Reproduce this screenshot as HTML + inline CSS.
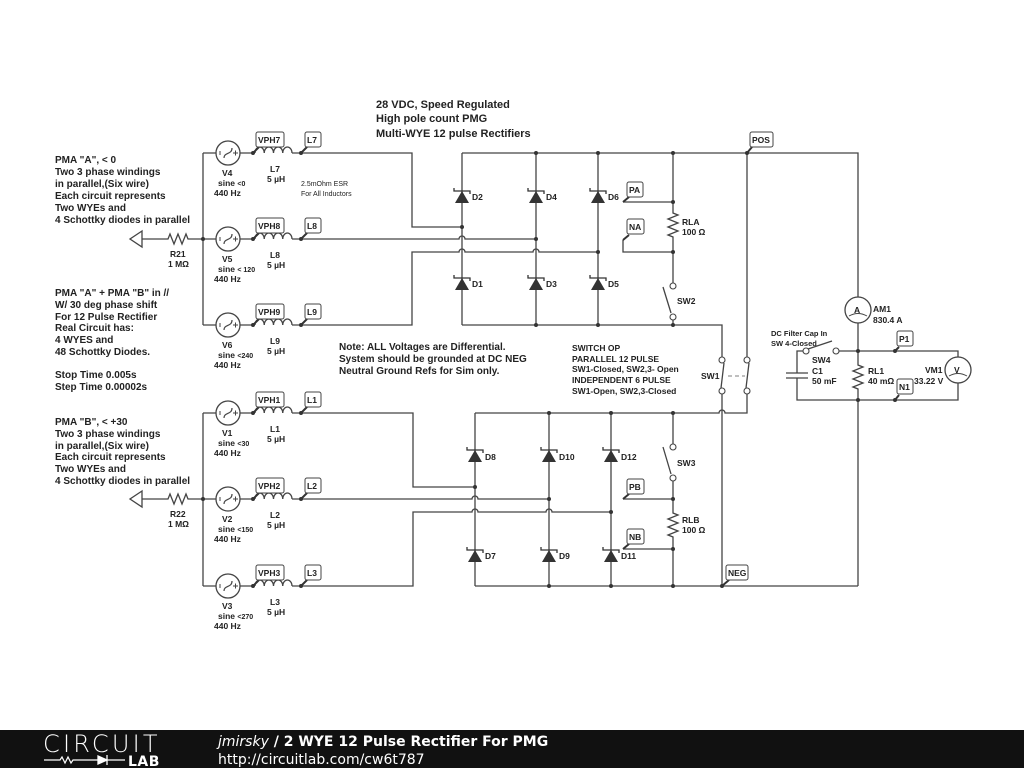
<!DOCTYPE html>
<html><head><meta charset="utf-8"><style>
html,body{margin:0;padding:0;background:#fff;}
svg{display:block;}
text{font-family:"Liberation Sans",Arial,sans-serif;fill:#222;}
.b{font-weight:bold;font-size:10px;}
.s{font-weight:bold;font-size:8.5px;}
.w{stroke:#444;stroke-width:1.3;fill:none;}
.lb{fill:#fff;stroke:#444;stroke-width:1;}
.f{font-family:"DejaVu Sans",sans-serif;fill:#fff;}
</style></head><body>
<svg width="1024" height="768" viewBox="0 0 1024 768" xmlns="http://www.w3.org/2000/svg">
<defs>
<g id="d"><path d="M-7,6 L7,6 L0,-6Z" fill="#333"/><path d="M-8,-9 L-8,-6 L8,-6 L8,-3" stroke="#333" stroke-width="1.3" fill="none"/></g>
<g id="src"><circle cx="0" cy="0" r="12" fill="#fff" stroke="#444" stroke-width="1.3"/><path d="M-4,5 C-4,-1 4,2 4,-5" stroke="#444" stroke-width="1.2" fill="none"/><path d="M-8,-2 V2 M5,0 H10 M7.5,-2.5 V2.5" stroke="#444" stroke-width="1"/></g>
<path id="ind" d="M0,0 a4.6,6 0 0 1 9.25,0 a4.6,6 0 0 1 9.25,0 a4.6,6 0 0 1 9.25,0 a4.6,6 0 0 1 9.25,0" stroke="#444" stroke-width="1.3" fill="none"/>
<path id="rv" d="M0,0 l0,3 l5,2 l-10,4 l10,4 l-10,4 l10,4 l-10,4 l5,2 l0,3" stroke="#444" stroke-width="1.3" fill="none"/>
<path id="rh" d="M0,0 l3,0 l2,-5 l4,10 l4,-10 l4,10 l4,-10 l2,5 l2,0" stroke="#444" stroke-width="1.3" fill="none"/>
</defs>

<text x="376" y="108" style="font-weight:bold;font-size:11px">28 VDC, Speed Regulated</text>
<text x="376" y="122" style="font-weight:bold;font-size:11px">High pole count PMG</text>
<text x="376" y="137" style="font-weight:bold;font-size:11px">Multi-WYE 12 pulse Rectifiers</text>

<text x="55" y="163" class="b">PMA "A", &lt; 0</text>
<text x="55" y="175" class="b">Two 3 phase windings</text>
<text x="55" y="187" class="b">in parallel,(Six wire)</text>
<text x="55" y="199" class="b">Each circuit represents</text>
<text x="55" y="211" class="b">Two WYEs and</text>
<text x="55" y="223" class="b">4 Schottky diodes in parallel</text>
<text x="55" y="296" class="b">PMA "A" + PMA "B" in //</text>
<text x="55" y="308" class="b">W/ 30 deg phase shift</text>
<text x="55" y="320" class="b">For 12 Pulse Rectifier</text>
<text x="55" y="331" class="b">Real Circuit has:</text>
<text x="55" y="343" class="b">4 WYES and</text>
<text x="55" y="355" class="b">48 Schottky Diodes.</text>
<text x="55" y="378" class="b">Stop Time 0.005s</text>
<text x="55" y="390" class="b">Step Time 0.00002s</text>
<text x="55" y="425" class="b">PMA "B", &lt; +30</text>
<text x="55" y="437" class="b">Two 3 phase windings</text>
<text x="55" y="449" class="b">in parallel,(Six wire)</text>
<text x="55" y="460" class="b">Each circuit represents</text>
<text x="55" y="472" class="b">Two WYEs and</text>
<text x="55" y="484" class="b">4 Schottky diodes in parallel</text>
<text x="339" y="350" class="b">Note: ALL Voltages are Differential.</text>
<text x="339" y="362" class="b">System should be grounded at DC NEG</text>
<text x="339" y="374" class="b">Neutral Ground Refs for Sim only.</text>
<text x="572" y="351" class="s">SWITCH OP</text>
<text x="572" y="362" class="s">PARALLEL 12 PULSE</text>
<text x="572" y="372" class="s">SW1-Closed, SW2,3- Open</text>
<text x="572" y="383" class="s">INDEPENDENT 6 PULSE</text>
<text x="572" y="394" class="s">SW1-Open, SW2,3-Closed</text>
<text x="301" y="186" style="font-size:7px">2.5mOhm ESR</text>
<text x="301" y="196" style="font-size:7px">For All Inductors</text>

<g class="w">
<path d="M203,153 V325 M203,153 H216 M240,153 H255 M292,153 H412 V227 H462"/>
<path d="M190,239 H216 M240,239 H255 M292,239 H459 a3,3 0 0 1 6,0 H536"/>
<path d="M203,325 H216 M240,325 H255 M292,325 H412 V252 H459 a3,3 0 0 1 6,0 H533 a3,3 0 0 1 6,0 H598"/>
<path d="M142,239 H165"/>
<path d="M462,153 H858 V297 M858,323 V362 M858,392 V586"/>
<path d="M462,153 V325 M536,153 V325 M598,153 V325 M462,325 H722 V357"/>
<path d="M673,153 V210 M673,240 V283 M673,320 V325 M663,287 L671,313"/>
<path d="M623,202 H673 M623,240 V252 H673"/>
<path d="M747,153 V357 M749,363 L746,388 M724,363 L721,388"/>
<path d="M747,394 V413 H725 a3,3 0 0 0 -6,0 H475 M722,394 V586"/>
<path d="M475,413 V586 M549,413 V586 M611,413 V586 M673,413 V444 M673,481 V510 M673,540 V586 M663,447 L671,474 M475,586 H858"/>
<path d="M203,413 V586 M203,413 H216 M240,413 H255 M292,413 H413 V487 H475"/>
<path d="M190,499 H216 M240,499 H255 M292,499 H472 a3,3 0 0 1 6,0 H549 M142,499 H165"/>
<path d="M203,586 H216 M240,586 H255 M292,586 H413 V512 H472 a3,3 0 0 1 6,0 H546 a3,3 0 0 1 6,0 H611"/>
<path d="M623,499 H673 M623,549 H673"/>
<path d="M836,351 H958 V357 M958,383 V400 H797 V378 M797,373 V351 H803 M786,373 H808 M786,378 H808 M808,349 L832,341"/>
</g>
<path d="M728,376 H745" stroke="#999" stroke-width="1.2" stroke-dasharray="4,3"/>

<path d="M142,231 L130,239 L142,247Z" fill="#fff" stroke="#444" stroke-width="1.3"/>
<path d="M142,491 L130,499 L142,507Z" fill="#fff" stroke="#444" stroke-width="1.3"/>
<use href="#rh" x="165" y="239"/><use href="#rh" x="165" y="499"/>
<text x="170" y="257" class="s">R21</text><text x="168" y="267" class="s">1 MΩ</text>
<text x="170" y="517" class="s">R22</text><text x="168" y="527" class="s">1 MΩ</text>

<use href="#src" x="228" y="153"/><use href="#src" x="228" y="239"/><use href="#src" x="228" y="325"/>
<use href="#src" x="228" y="413"/><use href="#src" x="228" y="499"/><use href="#src" x="228" y="586"/>
<use href="#ind" x="255" y="153"/><use href="#ind" x="255" y="239"/><use href="#ind" x="255" y="325"/>
<use href="#ind" x="255" y="413"/><use href="#ind" x="255" y="499"/><use href="#ind" x="255" y="586"/>

<text x="222" y="176" class="s">V4</text><text x="218" y="186" class="s">sine <tspan style="font-size:7px">&lt;0</tspan></text><text x="214" y="196" class="s">440 Hz</text>
<text x="222" y="262" class="s">V5</text><text x="218" y="272" class="s">sine <tspan style="font-size:7px">&lt; 120</tspan></text><text x="214" y="282" class="s">440 Hz</text>
<text x="222" y="348" class="s">V6</text><text x="218" y="358" class="s">sine <tspan style="font-size:7px">&lt;240</tspan></text><text x="214" y="368" class="s">440 Hz</text>
<text x="222" y="436" class="s">V1</text><text x="218" y="446" class="s">sine <tspan style="font-size:7px">&lt;30</tspan></text><text x="214" y="456" class="s">440 Hz</text>
<text x="222" y="522" class="s">V2</text><text x="218" y="532" class="s">sine <tspan style="font-size:7px">&lt;150</tspan></text><text x="214" y="542" class="s">440 Hz</text>
<text x="222" y="609" class="s">V3</text><text x="218" y="619" class="s">sine <tspan style="font-size:7px">&lt;270</tspan></text><text x="214" y="629" class="s">440 Hz</text>
<text x="270" y="172" class="s">L7</text><text x="267" y="182" class="s">5 µH</text>
<text x="270" y="258" class="s">L8</text><text x="267" y="268" class="s">5 µH</text>
<text x="270" y="344" class="s">L9</text><text x="267" y="354" class="s">5 µH</text>
<text x="270" y="432" class="s">L1</text><text x="267" y="442" class="s">5 µH</text>
<text x="270" y="518" class="s">L2</text><text x="267" y="528" class="s">5 µH</text>
<text x="270" y="605" class="s">L3</text><text x="267" y="615" class="s">5 µH</text>

<path d="M259,147 L253,153 M307,147 L301,153 M259,233 L253,239 M307,233 L301,239 M259,319 L253,325 M307,319 L301,325 M259,407 L253,413 M307,407 L301,413 M259,493 L253,499 M307,493 L301,499 M259,580 L253,586 M307,580 L301,586 M629,197 L623,202 M629,235 L623,240 M752,147 L747,153 M629,494 L623,499 M629,544 L623,549 M729,580 L722,586 M899,347 L895,351 M899,395 L895,400" stroke="#333" stroke-width="2"/>
<rect class="lb" x="256" y="132" width="28" height="15" rx="2"/><text x="258" y="143" class="s">VPH7</text>
<rect class="lb" x="305" y="132" width="16" height="15" rx="2"/><text x="307" y="143" class="s">L7</text>
<rect class="lb" x="256" y="218" width="28" height="15" rx="2"/><text x="258" y="229" class="s">VPH8</text>
<rect class="lb" x="305" y="218" width="16" height="15" rx="2"/><text x="307" y="229" class="s">L8</text>
<rect class="lb" x="256" y="304" width="28" height="15" rx="2"/><text x="258" y="315" class="s">VPH9</text>
<rect class="lb" x="305" y="304" width="16" height="15" rx="2"/><text x="307" y="315" class="s">L9</text>
<rect class="lb" x="256" y="392" width="28" height="15" rx="2"/><text x="258" y="403" class="s">VPH1</text>
<rect class="lb" x="305" y="392" width="16" height="15" rx="2"/><text x="307" y="403" class="s">L1</text>
<rect class="lb" x="256" y="478" width="28" height="15" rx="2"/><text x="258" y="489" class="s">VPH2</text>
<rect class="lb" x="305" y="478" width="16" height="15" rx="2"/><text x="307" y="489" class="s">L2</text>
<rect class="lb" x="256" y="565" width="28" height="15" rx="2"/><text x="258" y="576" class="s">VPH3</text>
<rect class="lb" x="305" y="565" width="16" height="15" rx="2"/><text x="307" y="576" class="s">L3</text>
<rect class="lb" x="627" y="182" width="16" height="15" rx="2"/><text x="629" y="193" class="s">PA</text>
<rect class="lb" x="627" y="219" width="17" height="15" rx="2"/><text x="629" y="230" class="s">NA</text>
<rect class="lb" x="750" y="132" width="23" height="15" rx="2"/><text x="752" y="143" class="s">POS</text>
<rect class="lb" x="627" y="479" width="17" height="15" rx="2"/><text x="629" y="490" class="s">PB</text>
<rect class="lb" x="627" y="529" width="17" height="15" rx="2"/><text x="629" y="540" class="s">NB</text>
<rect class="lb" x="726" y="565" width="22" height="15" rx="2"/><text x="728" y="576" class="s">NEG</text>
<rect class="lb" x="897" y="331" width="16" height="15" rx="2"/><text x="899" y="342" class="s">P1</text>
<rect class="lb" x="897" y="379" width="16" height="15" rx="2"/><text x="899" y="390" class="s">N1</text>

<use href="#d" x="462" y="197"/><use href="#d" x="462" y="284"/>
<use href="#d" x="536" y="197"/><use href="#d" x="536" y="284"/>
<use href="#d" x="598" y="197"/><use href="#d" x="598" y="284"/>
<use href="#d" x="475" y="456"/><use href="#d" x="475" y="556"/>
<use href="#d" x="549" y="456"/><use href="#d" x="549" y="556"/>
<use href="#d" x="611" y="456"/><use href="#d" x="611" y="556"/>
<text x="472" y="200" class="s">D2</text><text x="472" y="287" class="s">D1</text>
<text x="546" y="200" class="s">D4</text><text x="546" y="287" class="s">D3</text>
<text x="608" y="200" class="s">D6</text><text x="608" y="287" class="s">D5</text>
<text x="485" y="460" class="s">D8</text><text x="485" y="559" class="s">D7</text>
<text x="559" y="460" class="s">D10</text><text x="559" y="559" class="s">D9</text>
<text x="621" y="460" class="s">D12</text><text x="621" y="559" class="s">D11</text>

<use href="#rv" x="673" y="210"/><use href="#rv" x="673" y="510"/><use href="#rv" x="858" y="362"/>
<text x="682" y="225" class="s">RLA</text><text x="682" y="235" class="s">100 Ω</text>
<text x="682" y="523" class="s">RLB</text><text x="682" y="533" class="s">100 Ω</text>
<text x="868" y="374" class="s">RL1</text><text x="868" y="384" class="s">40 mΩ</text>
<text x="677" y="304" class="s">SW2</text><text x="677" y="466" class="s">SW3</text>
<text x="701" y="379" class="s">SW1</text><text x="812" y="363" class="s">SW4</text>
<text x="812" y="374" class="s">C1</text><text x="812" y="384" class="s">50 mF</text>
<text x="771" y="336" style="font-size:7.5px;font-weight:bold">DC Filter Cap In</text>
<text x="771" y="346" style="font-size:7.5px;font-weight:bold">SW 4-Closed</text>
<g fill="#fff" stroke="#444" stroke-width="1.1">
<circle cx="673" cy="286" r="3"/><circle cx="673" cy="317" r="3"/>
<circle cx="673" cy="447" r="3"/><circle cx="673" cy="478" r="3"/>
<circle cx="722" cy="360" r="3"/><circle cx="722" cy="391" r="3"/>
<circle cx="747" cy="360" r="3"/><circle cx="747" cy="391" r="3"/>
<circle cx="806" cy="351" r="3"/><circle cx="836" cy="351" r="3"/>
</g>

<circle cx="858" cy="310" r="13" fill="#fff" stroke="#444" stroke-width="1.3"/>
<text x="854" y="313" class="s">A</text><path d="M849,316 Q858,311 867,316" stroke="#444" fill="none"/>
<text x="873" y="312" class="s">AM1</text><text x="873" y="323" class="s">830.4 A</text>
<circle cx="958" cy="370" r="13" fill="#fff" stroke="#444" stroke-width="1.3"/>
<text x="954" y="373" class="s">V</text><path d="M949,376 Q958,371 967,376" stroke="#444" fill="none"/>
<text x="925" y="373" class="s">VM1</text><text x="914" y="384" class="s">33.22 V</text>

<g fill="#333">
<circle cx="203" cy="239" r="2"/><circle cx="203" cy="499" r="2"/>
<circle cx="253" cy="153" r="2"/><circle cx="301" cy="153" r="2"/><circle cx="253" cy="239" r="2"/><circle cx="301" cy="239" r="2"/><circle cx="253" cy="325" r="2"/><circle cx="301" cy="325" r="2"/>
<circle cx="253" cy="413" r="2"/><circle cx="301" cy="413" r="2"/><circle cx="253" cy="499" r="2"/><circle cx="301" cy="499" r="2"/><circle cx="253" cy="586" r="2"/><circle cx="301" cy="586" r="2"/>
<circle cx="462" cy="227" r="2"/><circle cx="536" cy="239" r="2"/><circle cx="598" cy="252" r="2"/>
<circle cx="536" cy="153" r="2"/><circle cx="598" cy="153" r="2"/><circle cx="673" cy="153" r="2"/><circle cx="747" cy="153" r="2"/>
<circle cx="536" cy="325" r="2"/><circle cx="598" cy="325" r="2"/><circle cx="673" cy="325" r="2"/>
<circle cx="673" cy="202" r="2"/><circle cx="673" cy="252" r="2"/>
<circle cx="475" cy="487" r="2"/><circle cx="549" cy="499" r="2"/><circle cx="611" cy="512" r="2"/>
<circle cx="549" cy="413" r="2"/><circle cx="611" cy="413" r="2"/><circle cx="673" cy="413" r="2"/>
<circle cx="549" cy="586" r="2"/><circle cx="611" cy="586" r="2"/><circle cx="673" cy="586" r="2"/><circle cx="722" cy="586" r="2"/>
<circle cx="673" cy="499" r="2"/><circle cx="673" cy="549" r="2"/>
<circle cx="858" cy="351" r="2"/><circle cx="858" cy="400" r="2"/><circle cx="895" cy="351" r="2"/><circle cx="895" cy="400" r="2"/>
</g>

<rect x="0" y="730" width="1024" height="38" fill="#111"/>
<text x="43" y="752" class="f" style="font-size:24px;font-weight:200;letter-spacing:0.5px" textLength="115">CIRCUIT</text>
<path d="M44,760 H60 l2,-3 l3,6 l3,-6 l3,6 l2,-3 H98" stroke="#fff" stroke-width="1.2" fill="none"/>
<path d="M98,756 V764 L107,760 Z M107,755 V765 M107,760 H125" stroke="#fff" stroke-width="1.3" fill="#fff"/>
<text x="128" y="766" class="f" style="font-size:14px;font-weight:bold;letter-spacing:0.5px">LAB</text>
<text x="218" y="746" class="f" style="font-size:14px;font-weight:bold"><tspan style="font-style:italic;font-weight:normal">jmirsky</tspan> / 2 WYE 12 Pulse Rectifier For PMG</text>
<text x="218" y="764" class="f" style="font-size:14px">http://circuitlab.com/cw6t787</text>
</svg>
</body></html>
